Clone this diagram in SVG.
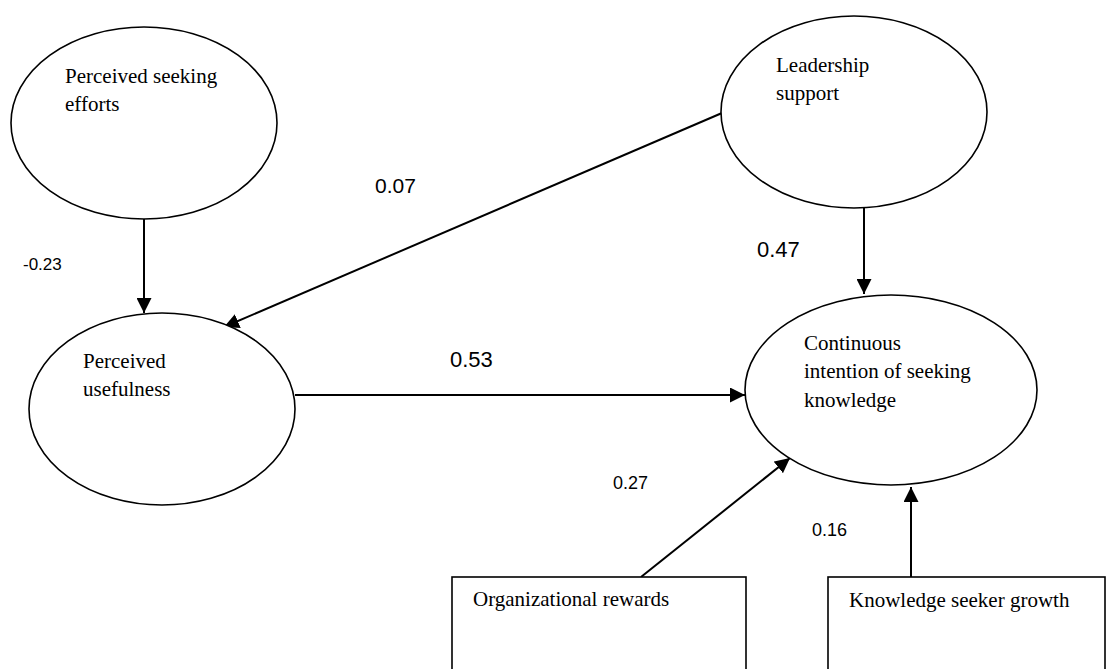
<svg xmlns="http://www.w3.org/2000/svg" width="1110" height="669" viewBox="0 0 1110 669">
<style>
.node{fill:#fff;stroke:#000;stroke-width:1.6}
.lbl{font-family:"Liberation Serif","Times New Roman",serif;font-size:21px;fill:#000}
.coef{font-family:"Liberation Sans",Arial,sans-serif;fill:#000}
.conn{stroke:#000;stroke-width:2;fill:none;marker-end:url(#ah)}
</style>
<defs>
<marker id="ah" viewBox="0 0 15 15" refX="15" refY="7.5" markerWidth="15" markerHeight="15" markerUnits="userSpaceOnUse" orient="auto"><path d="M0,0 L15,7.5 L0,15 z" fill="#000"/></marker>
</defs>
<rect width="1110" height="669" fill="#fff"/>
<g id="connectors">
<line class="conn" x1="144" y1="219" x2="144" y2="313"/>
<line class="conn" x1="722" y1="113" x2="224" y2="327"/>
<line class="conn" x1="295" y1="395" x2="745" y2="395"/>
<line class="conn" x1="864" y1="208" x2="864" y2="294"/>
<line class="conn" x1="641" y1="577" x2="790" y2="458"/>
<line class="conn" x1="911" y1="577" x2="911" y2="487"/>
</g>
<g id="coefficients">
<text class="coef" x="23" y="270" font-size="17">-0.23</text>
<text class="coef" x="375" y="193" font-size="21">0.07</text>
<text class="coef" x="757" y="257" font-size="22">0.47</text>
<text class="coef" x="450" y="367" font-size="22">0.53</text>
<text class="coef" x="613" y="489" font-size="18">0.27</text>
<text class="coef" x="812" y="536" font-size="18">0.16</text>
</g>
<g id="perceived-seeking-efforts">
<ellipse class="node" cx="144" cy="123" rx="133" ry="96"/>
<text class="lbl" x="65" y="83">Perceived seeking</text>
<text class="lbl" x="65" y="111">efforts</text>
</g>
<g id="leadership-support">
<ellipse class="node" cx="854" cy="112" rx="133" ry="96"/>
<text class="lbl" x="776" y="72">Leadership</text>
<text class="lbl" x="776" y="100">support</text>
</g>
<g id="perceived-usefulness">
<ellipse class="node" cx="162" cy="409" rx="133" ry="96"/>
<text class="lbl" x="83" y="368">Perceived</text>
<text class="lbl" x="83" y="396">usefulness</text>
</g>
<g id="continuous-intention">
<ellipse class="node" cx="891" cy="390" rx="146" ry="95"/>
<text class="lbl" x="804" y="350">Continuous</text>
<text class="lbl" x="804" y="378">intention of seeking</text>
<text class="lbl" x="804" y="407">knowledge</text>
</g>
<g id="organizational-rewards">
<rect class="node" x="452" y="577" width="294" height="110"/>
<text class="lbl" x="473" y="606">Organizational rewards</text>
</g>
<g id="knowledge-seeker-growth">
<rect class="node" x="828" y="577" width="277" height="110"/>
<text class="lbl" x="849" y="607">Knowledge seeker growth</text>
</g>
</svg>
